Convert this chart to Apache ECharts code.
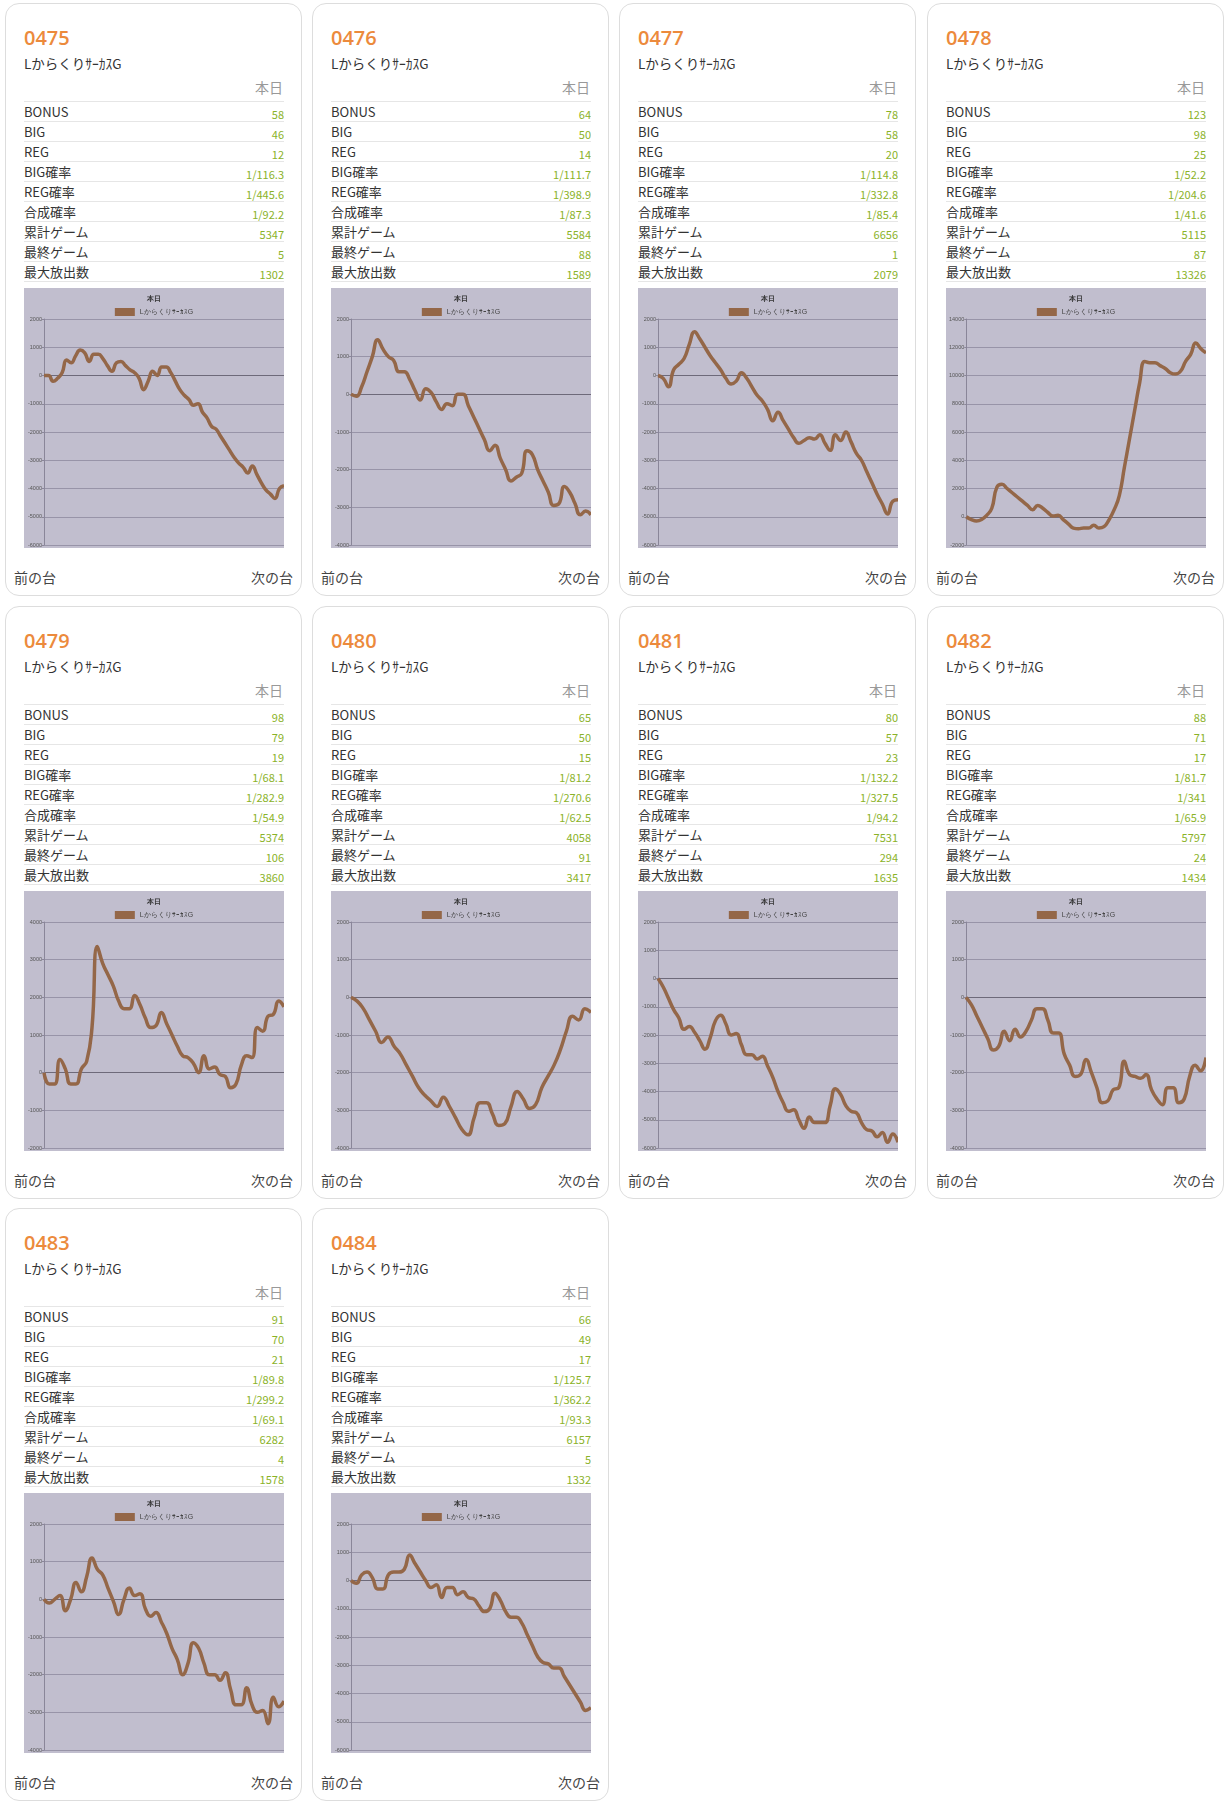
<!DOCTYPE html>
<html>
<head>
<meta charset="UTF-8">
<script src="https://cdn.jsdelivr.net/npm/echarts@6/dist/echarts.min.js"></script>
<style>
  body { margin:0; background:#fff; font-family:"Noto Sans CJK JP","Noto Sans",sans-serif; color:#333; width:1232px; height:1806px; position:relative; }
  .card { position:absolute; width:297px; height:593px; border:1px solid #ddd; border-radius:14px; box-sizing:border-box; background:#fff; }
  .no { position:absolute; left:18px; top:20px; font-size:20px; color:#ec8a3c; font-family:"Open Sans",sans-serif; font-weight:600; }
  .nm { position:absolute; left:18px; top:49px; font-size:13.5px; color:#333; }
  .hd { position:absolute; right:18px; top:73px; font-size:14px; color:#999; }
  .tb { position:absolute; left:18px; top:97px; width:260px; border-top:1px solid #e6e6e6; }
  .r { position:relative; height:19px; border-bottom:1px solid #e6e6e6; overflow:hidden; }
  .l { position:absolute; left:0; top:0; font-size:13px; line-height:19px; }
  .v { position:absolute; right:0; top:3px; color:#8ab228; font-size:11px; line-height:19px; }
  .ch { position:absolute; left:18px; top:284px; width:260px; height:260px; }
  .f { position:absolute; top:563px; font-size:14px; color:#444; }
</style>
</head>
<body>
<script>
var machines = ['0475','0476','0477','0478','0479','0480','0481','0482','0483','0484'];
var modelName = 'Lからくりｻｰｶｽ G'.replace(' ', '');
var statLabels = ['BONUS','BIG','REG','BIG確率','REG確率','合成確率','累計ゲーム','最終ゲーム','最大放出数'];
var stats = [
  ['58','46','12','1/116.3','1/445.6','1/92.2','5347','5','1302'],
  ['64','50','14','1/111.7','1/398.9','1/87.3','5584','88','1589'],
  ['78','58','20','1/114.8','1/332.8','1/85.4','6656','1','2079'],
  ['123','98','25','1/52.2','1/204.6','1/41.6','5115','87','13326'],
  ['98','79','19','1/68.1','1/282.9','1/54.9','5374','106','3860'],
  ['65','50','15','1/81.2','1/270.6','1/62.5','4058','91','3417'],
  ['80','57','23','1/132.2','1/327.5','1/94.2','7531','294','1635'],
  ['88','71','17','1/81.7','1/341','1/65.9','5797','24','1434'],
  ['91','70','21','1/89.8','1/299.2','1/69.1','6282','4','1578'],
  ['66','49','17','1/125.7','1/362.2','1/93.3','6157','5','1332']
];
var axisMin = [-6000,-4000,-6000,-2000,-2000,-4000,-6000,-4000,-4000,-6000];
var axisMax = [2000,2000,2000,14000,4000,2000,2000,2000,2000,2000];
var axisStep = [1000,1000,1000,2000,1000,1000,1000,1000,1000,1000];
var s0475 = [0,0,-200,-100,100,550,450,700,900,800,500,750,750,600,350,150,450,500,350,200,100,-100,-500,-200,150,0,300,300,100,-200,-500,-700,-850,-1050,-1000,-1300,-1500,-1800,-1900,-2150,-2400,-2650,-2900,-3100,-3250,-3450,-3200,-3500,-3800,-4050,-4200,-4350,-4000,-3900];
var s0476 = [0,-50,200,600,1000,1450,1200,1000,900,600,600,400,100,-150,150,50,-200,-400,-250,-300,0,0,-300,-600,-900,-1200,-1500,-1350,-1700,-2000,-2300,-2200,-2100,-1500,-1600,-2000,-2300,-2600,-2950,-2900,-2450,-2600,-2900,-3200,-3100,-3200];
var s0477 = [0,-100,-400,200,400,600,1100,1550,1300,1000,700,450,200,-100,-300,-200,100,-100,-400,-700,-900,-1200,-1600,-1300,-1600,-1900,-2200,-2400,-2300,-2200,-2250,-2100,-2400,-2650,-2100,-2300,-2000,-2350,-2750,-3000,-3400,-3800,-4200,-4550,-4900,-4450,-4400];
var s0478 = [0,-200,-300,-200,100,600,2100,2300,2000,1700,1400,1100,800,500,800,600,300,50,100,-200,-500,-800,-850,-800,-800,-600,-800,-700,-200,500,1500,3500,5500,7500,9500,11000,10900,10900,10700,10500,10200,10100,10300,11000,11500,12300,11900,11600];
var s0479 = [0,-300,-300,350,100,-300,-300,100,300,1200,3350,2900,2600,2300,1900,1700,1700,2050,1800,1450,1200,1250,1600,1300,1000,700,450,400,250,0,450,100,150,-50,-100,-400,-300,200,450,400,1200,1100,1500,1550,1900,1750];
var s0480 = [0,-100,-300,-600,-900,-1200,-1050,-1300,-1500,-1800,-2100,-2400,-2600,-2750,-2900,-2650,-2900,-3200,-3500,-3650,-3200,-2800,-2800,-3100,-3400,-3350,-2900,-2500,-2700,-2950,-2850,-2400,-2100,-1800,-1400,-900,-500,-600,-300,-400];
var s0481 = [0,-300,-700,-1100,-1400,-1800,-1700,-1900,-2200,-2500,-2100,-1500,-1300,-1600,-2000,-1950,-2350,-2700,-2700,-2850,-2750,-3100,-3500,-4000,-4400,-4700,-4650,-5000,-5300,-4900,-5100,-5100,-5100,-4500,-3900,-4100,-4500,-4700,-4750,-5100,-5350,-5400,-5600,-5450,-5800,-5500,-5800];
var s0482 = [0,-200,-500,-800,-1100,-1400,-1300,-900,-1150,-850,-1050,-900,-600,-300,-300,-600,-950,-950,-1500,-1800,-2100,-2050,-1650,-2000,-2400,-2800,-2750,-2450,-2400,-1700,-2050,-2100,-2150,-2050,-2450,-2700,-2850,-2400,-2400,-2800,-2700,-2100,-1800,-1950,-1600];
var s0483 = [0,-100,0,100,-300,0,450,200,600,1100,800,650,300,-50,-400,0,300,100,150,-250,-450,-350,-600,-900,-1300,-1600,-2000,-1700,-1150,-1300,-1700,-2000,-2000,-2150,-1950,-2400,-2800,-2800,-2350,-2800,-3000,-2950,-3300,-2600,-2850,-2700];
var s0484 = [0,-100,200,300,100,-300,-300,200,300,300,400,900,600,300,0,-250,-150,-600,-250,-250,-500,-400,-600,-650,-900,-1100,-1000,-450,-700,-1100,-1300,-1300,-1500,-1900,-2300,-2700,-2900,-2950,-3100,-3100,-3400,-3700,-4000,-4300,-4600,-4500];
var seriesData = [s0475,s0476,s0477,s0478,s0479,s0480,s0481,s0482,s0483,s0484];

var lefts = [5,312,619,927], tops = [3,606,1208];
machines.forEach(function (no, i) {
  var card = document.createElement('div');
  card.className = 'card';
  card.style.left = lefts[i % 4] + 'px';
  card.style.top = tops[Math.floor(i / 4)] + 'px';
  var rows = statLabels.map(function (l, k) {
    return '<div class="r"><span class="l">' + l + '</span><span class="v">' + stats[i][k] + '</span></div>';
  }).join('');
  card.innerHTML = '<div class="no">' + no + '</div><div class="nm">' + modelName + '</div>' +
    '<div class="hd">本日</div><div class="tb">' + rows + '</div>' +
    '<div class="ch" id="c' + i + '"></div>' +
    '<div class="f" style="left:8px">前の台</div><div class="f" style="right:8px">次の台</div>';
  document.body.appendChild(card);

  var data = seriesData[i];
  var nLines = (axisMax[i] - axisMin[i]) / axisStep[i] + 1;
  var zeroIdx = -axisMin[i] / axisStep[i];
  var gridColors = [];
  for (var k = 0; k < nLines; k++) gridColors.push(k === zeroIdx ? '#6e6a7a' : '#9894a8');
  var chart = echarts.init(document.getElementById('c' + i));
  chart.setOption({
    backgroundColor: '#c1bece',
    animation: false,
    title: { text: '本日', left: 'center', top: 3, textStyle: { fontSize: 7, fontWeight: 'bold', color: '#333' } },
    legend: { top: 15, itemWidth: 20, itemHeight: 8, icon: 'rect', textStyle: { fontSize: 7, color: '#444' }, data: [modelName] },
    grid: { left: 20, right: 0, top: 31, bottom: 2 },
    xAxis: { type: 'category', boundaryGap: false, data: data.map(function (v, k) { return k; }),
      axisLabel: { show: false }, axisTick: { show: false }, axisLine: { show: false } },
    yAxis: { type: 'value', min: axisMin[i], max: axisMax[i], interval: axisStep[i],
      axisLabel: { fontSize: 5.5, color: '#555', margin: 2, formatter: function (v) { return String(v); } },
      axisLine: { show: true, lineStyle: { color: '#8a8699' } },
      axisTick: { show: true, length: 2, lineStyle: { color: '#8a8699' } },
      splitLine: { lineStyle: { color: gridColors, width: 1 } } },
    series: [{ name: modelName, type: 'line', data: data, smooth: true, showSymbol: false,
      itemStyle: { color: '#946748' }, lineStyle: { color: '#946748', width: 3.5 } }]
  });
});
</script>
</body>
</html>
